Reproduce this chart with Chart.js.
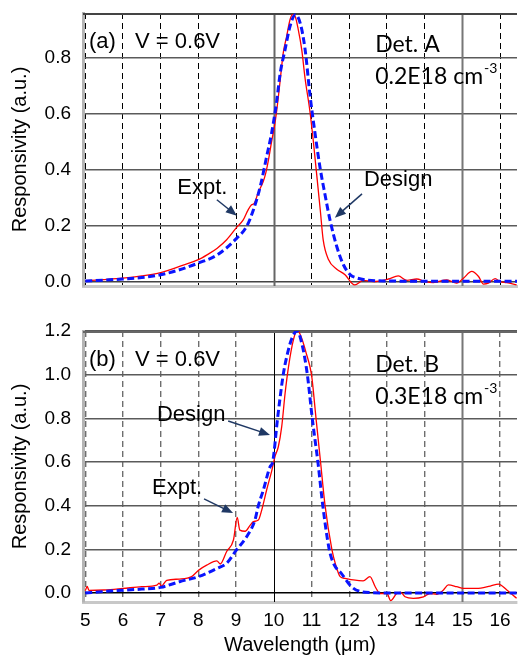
<!DOCTYPE html>
<html>
<head>
<meta charset="utf-8">
<script src="https://cdn.jsdelivr.net/npm/chart.js@4.4.0/dist/chart.umd.min.js"></script>
<style>
  body { margin: 0; background: #fff; }
  canvas { display: block; }
</style>
</head>
<body>
<canvas id="chartA" width="518" height="300"></canvas>
<canvas id="chartB" width="518" height="357"></canvas>
<script>
// tick labels
const xTicks = [5, 6, 7, 8, 9, 10, 11, 12, 13, 14, 15, 16];
const yTicksA = [0, 0.2, 0.4, 0.6, 0.8];
const yTicksB = [0, 0.2, 0.4, 0.6, 0.8, 1.0, 1.2];

// (a) Det. A, measured
const wlExptA = [5.0, 5.5, 6.0, 6.5, 7.0, 7.5, 8.0, 8.25, 8.5, 8.75, 9.02, 9.19, 9.32, 9.41, 9.48, 9.59, 9.72, 9.79, 9.86, 9.95, 10.01, 10.08, 10.17, 10.25, 10.34, 10.43, 10.5, 10.56, 10.65, 10.74, 10.83, 10.96, 11.05, 11.14, 11.23, 11.31, 11.45, 11.67, 11.89, 12.07, 12.15, 12.37, 12.64, 13.04, 13.3, 13.53, 13.79, 14.01, 14.23, 14.59, 14.85, 15.03, 15.25, 15.43, 15.56, 15.69, 15.87, 16.0, 16.18, 16.44];
const rExptA = [0.004, 0.008, 0.013, 0.021, 0.033, 0.055, 0.079, 0.098, 0.12, 0.15, 0.195, 0.221, 0.257, 0.275, 0.28, 0.32, 0.358, 0.39, 0.436, 0.507, 0.549, 0.614, 0.72, 0.817, 0.876, 0.936, 0.954, 0.95, 0.9, 0.83, 0.726, 0.607, 0.5, 0.38, 0.26, 0.15, 0.08, 0.045, 0.025, -0.005, -0.011, 0.005, 0.001, 0.01, 0.021, 0.005, 0.01, 0.001, -0.003, 0.007, -0.005, 0.013, 0.037, 0.019, -0.008, -0.005, 0.011, 0.001, -0.003, -0.011];

// (a) Det. A, design
const wlDesignA = [5.0, 5.5, 6.0, 6.5, 7.0, 7.5, 8.0, 8.5, 9.02, 9.28, 9.46, 9.64, 9.81, 9.94, 10.07, 10.17, 10.3, 10.43, 10.57, 10.7, 10.83, 10.96, 11.1, 11.23, 11.36, 11.49, 11.67, 11.85, 12.03, 12.2, 12.5, 13.0, 14.0, 15.0, 16.0, 16.45];
const rDesignA = [0.003, 0.006, 0.01, 0.015, 0.025, 0.043, 0.067, 0.096, 0.156, 0.198, 0.257, 0.34, 0.447, 0.53, 0.638, 0.745, 0.83, 0.912, 0.954, 0.924, 0.83, 0.667, 0.524, 0.405, 0.31, 0.221, 0.126, 0.06, 0.025, 0.014, 0.006, 0.003, 0.002, 0.002, 0.002, 0.002];

// (b) Det. B, measured
const wlExptB = [5.0, 5.05, 5.1, 5.5, 6.0, 6.5, 6.9, 6.96, 7.02, 7.16, 7.5, 7.82, 8.01, 8.22, 8.49, 8.58, 8.75, 8.93, 9.03, 9.1, 9.24, 9.37, 9.46, 9.59, 9.68, 9.81, 9.95, 10.03, 10.12, 10.21, 10.3, 10.39, 10.52, 10.62, 10.74, 10.86, 11.0, 11.12, 11.24, 11.36, 11.54, 11.64, 11.76, 11.89, 12.11, 12.37, 12.55, 12.69, 12.82, 13.0, 13.1, 13.26, 13.37, 13.48, 13.7, 13.97, 14.14, 14.32, 14.5, 14.63, 14.85, 15.03, 15.38, 15.74, 15.96, 16.18, 16.44];
const rExptB = [0.01, 0.03, 0.012, 0.014, 0.021, 0.029, 0.036, 0.045, 0.032, 0.058, 0.064, 0.075, 0.105, 0.128, 0.147, 0.133, 0.19, 0.243, 0.346, 0.288, 0.283, 0.31, 0.327, 0.334, 0.38, 0.472, 0.563, 0.624, 0.67, 0.762, 0.915, 1.036, 1.159, 1.205, 1.167, 1.098, 1.0, 0.8, 0.6, 0.4, 0.2, 0.13, 0.075, 0.067, 0.06, 0.056, 0.075, 0.029, -0.002, -0.002, -0.035, -0.002, 0.003, -0.017, -0.024, -0.017, -0.002, -0.006, 0.014, 0.037, 0.029, 0.021, 0.021, 0.032, 0.041, 0.014, -0.024];

// (b) Det. B, design
const wlDesignB = [5.0, 5.5, 6.0, 6.5, 7.0, 7.5, 8.0, 8.5, 8.75, 9.0, 9.28, 9.5, 9.59, 9.72, 9.9, 9.97, 10.1, 10.25, 10.34, 10.48, 10.62, 10.76, 10.89, 11.02, 11.17, 11.3, 11.47, 11.6, 11.79, 12.06, 12.32, 12.6, 13.0, 14.0, 15.0, 16.0, 16.45];
const rDesignB = [0.0, 0.007, 0.013, 0.018, 0.026, 0.052, 0.075, 0.113, 0.136, 0.195, 0.258, 0.334, 0.4, 0.47, 0.578, 0.6, 0.8, 1.0, 1.08, 1.167, 1.2, 1.13, 1.0, 0.8, 0.6, 0.4, 0.2, 0.13, 0.09, 0.029, 0.006, 0.002, 0.0, 0.0, 0.0, 0.0, 0.0];

const ARIAL = '"Liberation Sans", Arial, sans-serif';
const ARROW = '#1f3864';

function pts(xs, ys) {
  return xs.map((x, i) => ({ x: x, y: ys[i] }));
}

// solid lines at 10 and 15, top frame, then text + arrows
const panelDecor = {
  id: 'panelDecor',
  beforeDatasetsDraw(chart, args, opts) {
    const { ctx, chartArea: a } = chart;
    const x = chart.scales.x;
    ctx.save();
    opts.solid.forEach(s => {
      const px = Math.round(x.getPixelForValue(s.value)) + 0.5;
      ctx.strokeStyle = s.color;
      ctx.lineWidth = s.width;
      ctx.beginPath();
      ctx.moveTo(px, a.top);
      ctx.lineTo(px, a.bottom);
      ctx.stroke();
    });
    ctx.strokeStyle = opts.frame;
    ctx.lineWidth = 2;
    ctx.beginPath();
    ctx.moveTo(a.left, a.top + 1);
    ctx.lineTo(a.right, a.top + 1);
    ctx.stroke();
    ctx.restore();
  },
  afterDatasetsDraw(chart, args, opts) {
    const { ctx } = chart;
    const x = chart.scales.x, y = chart.scales.y;
    ctx.save();
    ctx.fillStyle = '#000';
    ctx.textAlign = 'left';
    ctx.textBaseline = 'middle';
    opts.notes.forEach(n => {
      const px = x.getPixelForValue(n.x), py = y.getPixelForValue(n.y);
      ctx.font = n.font;
      ctx.fillText(n.text, px, py);
      if (n.sup) {
        const w = ctx.measureText(n.text).width;
        ctx.font = '14px Lato';
        ctx.fillText(n.sup, px + w + 1, py - 8);
      }
    });
    opts.arrows.forEach(ar => {
      const x1 = x.getPixelForValue(ar.from[0]), y1 = y.getPixelForValue(ar.from[1]);
      const x2 = x.getPixelForValue(ar.to[0]), y2 = y.getPixelForValue(ar.to[1]);
      const ang = Math.atan2(y2 - y1, x2 - x1);
      ctx.strokeStyle = ARROW;
      ctx.fillStyle = ARROW;
      ctx.lineWidth = 1.5;
      ctx.beginPath();
      ctx.moveTo(x1, y1);
      ctx.lineTo(x2 - 8 * Math.cos(ang), y2 - 8 * Math.sin(ang));
      ctx.stroke();
      ctx.beginPath();
      ctx.moveTo(x2, y2);
      ctx.lineTo(x2 - 11 * Math.cos(ang) + 4.5 * Math.sin(ang), y2 - 11 * Math.sin(ang) - 4.5 * Math.cos(ang));
      ctx.lineTo(x2 - 11 * Math.cos(ang) - 4.5 * Math.sin(ang), y2 - 11 * Math.sin(ang) + 4.5 * Math.cos(ang));
      ctx.closePath();
      ctx.fill();
    });
    ctx.restore();
  }
};

function makePanel(id, p) {
  return new Chart(document.getElementById(id), {
    type: 'line',
    data: {
      datasets: [
        {
          label: 'Design',
          data: pts(p.wlDesign, p.rDesign),
          borderColor: '#0a14ff',
          borderWidth: 3,
          borderDash: [7, 3.5],
          pointRadius: 0,
          cubicInterpolationMode: 'monotone'
        },
        {
          label: 'Expt.',
          data: pts(p.wlExpt, p.rExpt),
          borderColor: '#ff0000',
          borderWidth: 1.3,
          pointRadius: 0,
          cubicInterpolationMode: 'monotone'
        }
      ]
    },
    options: {
      responsive: false,
      animation: false,
      layout: { padding: { top: p.padTop, right: 1, left: 0, bottom: 0 } },
      plugins: {
        legend: { display: false },
        tooltip: { enabled: false },
        panelDecor: { solid: p.solid, frame: p.frame, notes: p.notes, arrows: p.arrows }
      },
      scales: {
        x: {
          type: 'linear',
          min: 4.94,
          max: 16.45,
          afterBuildTicks: s => { s.ticks = xTicks.map(v => ({ value: v })); },
          afterFit: s => {
            s.height = p.xHeight;
            s.paddingLeft = 0;
            s.paddingRight = 0;
          },
          ticks: {
            display: p.showX,
            color: '#000',
            font: { family: ARIAL, size: 19 },
            padding: 7,
            maxRotation: 0,
            callback: v => String(v)
          },
          grid: {
            drawTicks: false,
            color: c => (c.tick && (c.tick.value === 10 || c.tick.value === 15)) ? 'rgba(0,0,0,0)' : p.vColor,
            lineWidth: p.vWidth
          },
          border: { color: '#c8c8c8', width: 3, dash: [6, 4] },
          title: {
            display: p.showX,
            text: 'Wavelength (μm)',
            color: '#000',
            font: { family: ARIAL, size: 20 },
            padding: { top: 0, bottom: 0 }
          }
        },
        y: {
          min: p.yMin,
          max: p.yMax,
          afterBuildTicks: s => { s.ticks = p.yTicks.map(v => ({ value: v })); },
          afterFit: s => {
            s.width = 83;
            s.paddingTop = 0;
            s.paddingBottom = 0;
          },
          ticks: {
            color: '#000',
            font: { family: ARIAL, size: 19 },
            padding: 12,
            callback: v => v.toFixed(1)
          },
          grid: {
            drawTicks: false,
            color: c => (c.tick && c.tick.value === 0) ? p.zeroColor : '#5a5a5a',
            lineWidth: 1.6
          },
          border: { color: '#b4b4b4', width: 3 },
          title: {
            display: true,
            text: 'Responsivity (a.u.)',
            color: '#000',
            font: { family: ARIAL, size: 20 },
            padding: { top: 8, bottom: 0 }
          }
        }
      }
    },
    plugins: [panelDecor]
  });
}

makePanel('chartA', {
  wlExpt: wlExptA, rExpt: rExptA, wlDesign: wlDesignA, rDesign: rDesignA,
  yTicks: yTicksA, yMin: -0.015, yMax: 0.96,
  padTop: 13, xHeight: 14, showX: false,
  vColor: '#000', vWidth: 1, zeroColor: '#444', frame: '#444',
  solid: [{ value: 10, color: '#666', width: 2 }, { value: 15, color: '#777', width: 2 }],
  notes: [
    { text: '(a)', x: 5.1, y: 0.857, font: '22px ' + ARIAL },
    { text: 'V = 0.6V', x: 6.32, y: 0.857, font: '22px ' + ARIAL },
    { text: 'Det. A', x: 12.69, y: 0.846, font: '23px Lato' },
    { text: '0.2E18 cm', sup: '-3', x: 12.69, y: 0.732, font: '23px Lato' },
    { text: 'Expt.', x: 7.44, y: 0.336, font: '22px ' + ARIAL },
    { text: 'Design', x: 12.39, y: 0.364, font: '22px ' + ARIAL }
  ],
  arrows: [
    { from: [8.49, 0.293], to: [9.02, 0.236] },
    { from: [12.34, 0.314], to: [11.62, 0.229] }
  ]
});

makePanel('chartB', {
  wlExpt: wlExptB, rExpt: rExptB, wlDesign: wlDesignB, rDesign: rDesignB,
  yTicks: yTicksB, yMin: -0.041, yMax: 1.2,
  padTop: 31, xHeight: 55, showX: true,
  vColor: '#6e6e6e', vWidth: 1.4, zeroColor: '#000', frame: '#666',
  solid: [{ value: 10, color: '#000', width: 1 }, { value: 15, color: '#777', width: 2 }],
  notes: [
    { text: '(b)', x: 5.1, y: 1.067, font: '22px ' + ARIAL },
    { text: 'V = 0.6V', x: 6.32, y: 1.067, font: '22px ' + ARIAL },
    { text: 'Det. B', x: 12.69, y: 1.044, font: '23px Lato' },
    { text: '0.3E18 cm', sup: '-3', x: 12.69, y: 0.898, font: '23px Lato' },
    { text: 'Design', x: 6.9, y: 0.815, font: '22px ' + ARIAL },
    { text: 'Expt.', x: 6.77, y: 0.481, font: '22px ' + ARIAL }
  ],
  arrows: [
    { from: [8.79, 0.788], to: [9.9, 0.724] },
    { from: [8.15, 0.431], to: [8.92, 0.366] }
  ]
});
</script>
</body>
</html>
